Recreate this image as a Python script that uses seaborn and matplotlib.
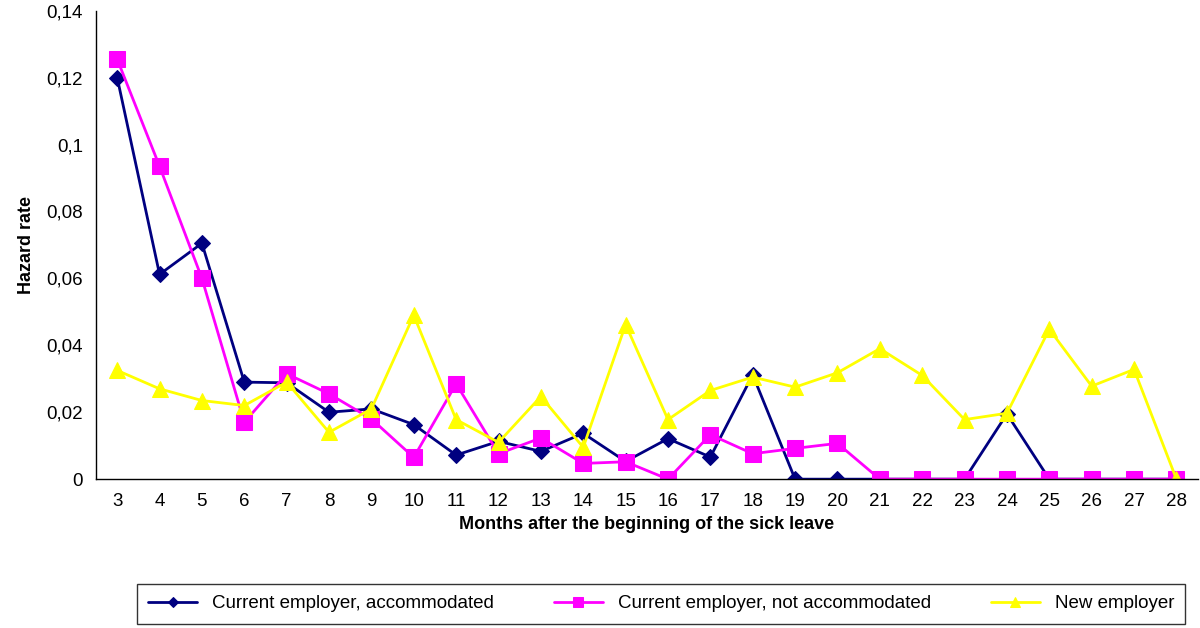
import numpy as np
import pandas as pd
import matplotlib
matplotlib.use("Agg")
import matplotlib.pyplot as plt
import seaborn as sns
from matplotlib.ticker import FixedLocator, FuncFormatter

months = list(range(3, 29))

accommodated = [0.120, 0.0612, 0.0705, 0.0290, 0.0288, 0.0200, 0.0210, 0.0163, 0.0072,
                0.0113, 0.0083, 0.0137, 0.0053, 0.0121, 0.0066, 0.0312, 0.0, 0.0, 0.0,
                0.0, 0.0, 0.0195, 0.0, 0.0, 0.0, 0.0]
not_accommodated = [0.1255, 0.0935, 0.0600, 0.0170, 0.0315, 0.0255, 0.0180, 0.0065, 0.0285,
                    0.0076, 0.0123, 0.0047, 0.0052, 0.0, 0.0133, 0.0076, 0.0092, 0.0107, 0.0,
                    0.0, 0.0, 0.0, 0.0, 0.0, 0.0, 0.0]
new_employer = [0.0325, 0.0270, 0.0235, 0.0220, 0.0290, 0.0140, 0.0210, 0.0490, 0.0178,
                0.0110, 0.0247, 0.0095, 0.0462, 0.0178, 0.0265, 0.0305, 0.0275, 0.0318, 0.0390,
                0.0310, 0.0178, 0.0197, 0.0448, 0.0278, 0.0328, 0.0]

series_names = ["Current employer, accommodated",
                "Current employer, not accommodated",
                "New employer"]

df = pd.DataFrame({
    "month": months * 3,
    "rate": accommodated + not_accommodated + new_employer,
    "group": sum([[n] * len(months) for n in series_names], []),
})

sns.set_style("white")
plt.rcParams["font.family"] = ["Liberation Sans", "DejaVu Sans"]
plt.rcParams["text.color"] = "black"
plt.rcParams["axes.labelcolor"] = "black"
plt.rcParams["xtick.color"] = "black"
plt.rcParams["ytick.color"] = "black"

fig = plt.figure(figsize=(12, 6.28), dpi=100)
ax = fig.add_axes([0.08, 0.237, 0.918, 0.746])

styles = {
    series_names[0]: dict(color="#000080", marker="D", markersize=8),
    series_names[1]: dict(color="#FF00FF", marker="s", markersize=11),
    series_names[2]: dict(color="#FFFF00", marker="^", markersize=11),
}
for name in series_names:
    st = styles[name]
    sub = df[df["group"] == name]
    sns.lineplot(data=sub, x="month", y="rate", ax=ax, color=st["color"],
                 marker=st["marker"], markersize=st["markersize"],
                 markeredgecolor=st["color"], linewidth=2, label=name, legend=False)

ax.set_xlim(2.5, 28.5)
ax.set_ylim(0, 0.14)

ax.set_xticks(months)
ax.set_xticklabels([str(m) for m in months], fontsize=13.5)
ax.xaxis.set_minor_locator(FixedLocator(np.arange(2.5, 29, 1)))
ax.tick_params(axis="x", which="major", length=0, pad=10)
ax.tick_params(axis="x", which="minor", length=6, width=1, direction="out", color="black")

ax.set_yticks(np.arange(0, 0.141, 0.02))
ax.yaxis.set_major_formatter(FuncFormatter(lambda v, p: "0" if abs(v) < 1e-9 else f"{v:.2f}".rstrip("0").replace(".", ",")))
ax.tick_params(axis="y", which="major", length=6, width=1, direction="out", color="black", labelsize=13.5)

for side in ["top", "right"]:
    ax.spines[side].set_visible(False)
for side in ["left", "bottom"]:
    ax.spines[side].set_color("black")
    ax.spines[side].set_linewidth(1)

ax.set_xlabel("Months after the beginning of the sick leave", fontsize=13, fontweight="bold", labelpad=4)
ax.set_ylabel("Hazard rate", fontsize=13, fontweight="bold", labelpad=8)

handles, labels = ax.get_legend_handles_labels()
leg = fig.legend(handles, labels, loc="lower center", bbox_to_anchor=(0.551, -0.008), ncol=3,
                 frameon=True, fancybox=False, fontsize=13.5, handlelength=2.6,
                 columnspacing=3.2, borderpad=0.6, markerscale=0.7)
leg.get_frame().set_edgecolor("black")
leg.get_frame().set_linewidth(1)

fig.savefig("out.png", dpi=100)
